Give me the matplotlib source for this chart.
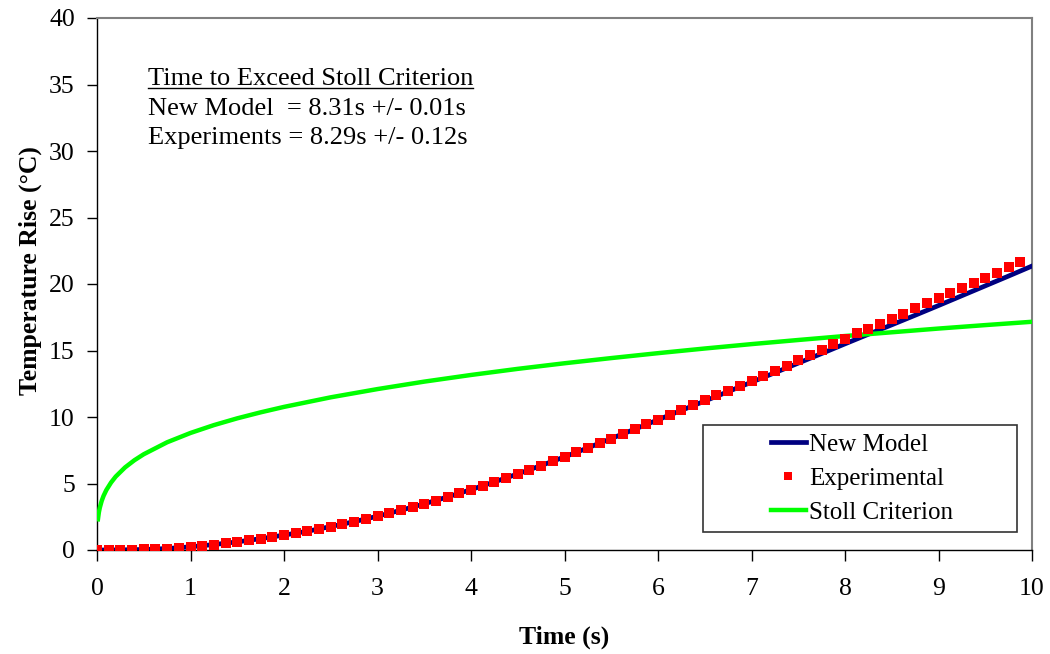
import matplotlib
matplotlib.use("Agg")
import matplotlib.pyplot as plt
from matplotlib.lines import Line2D
from matplotlib.patches import Rectangle

# ---- data -------------------------------------------------------------
time_model = [0.00, 0.25, 0.50, 0.75, 1.00, 1.25, 1.50, 1.75, 2.00, 2.25,
              2.50, 2.75, 3.00, 3.25, 3.50, 3.75, 4.00, 4.25, 4.50, 4.75,
              5.00, 5.25, 5.50, 5.75, 6.00, 6.25, 6.50, 6.75, 7.00, 7.25,
              7.50, 7.75, 8.00, 8.25, 8.50, 8.75, 9.00, 9.25, 9.50, 9.75,
              10.00]
temp_model = [0.00, 0.01, 0.04, 0.11, 0.24, 0.41, 0.61, 0.85, 1.12, 1.41,
              1.76, 2.13, 2.54, 2.99, 3.47, 3.99, 4.54, 5.12, 5.72, 6.35,
              7.00, 7.68, 8.38, 9.08, 9.79, 10.50, 11.20, 11.91, 12.62, 13.33,
              14.05, 14.77, 15.50, 16.22, 16.93, 17.65, 18.38, 19.12, 19.86, 20.60,
              21.35]

time_exp = [0.000, 0.125, 0.250, 0.375, 0.500, 0.625, 0.750, 0.875,
            1.000, 1.125, 1.250, 1.375, 1.500, 1.625, 1.750, 1.875,
            2.000, 2.125, 2.250, 2.375, 2.500, 2.625, 2.750, 2.875,
            3.000, 3.125, 3.250, 3.375, 3.500, 3.625, 3.750, 3.875,
            4.000, 4.125, 4.250, 4.375, 4.500, 4.625, 4.750, 4.875,
            5.000, 5.125, 5.250, 5.375, 5.500, 5.625, 5.750, 5.875,
            6.000, 6.125, 6.250, 6.375, 6.500, 6.625, 6.750, 6.875,
            7.000, 7.125, 7.250, 7.375, 7.500, 7.625, 7.750, 7.875,
            8.000, 8.125, 8.250, 8.375, 8.500, 8.625, 8.750, 8.875,
            9.000, 9.125, 9.250, 9.375, 9.500, 9.625, 9.750, 9.875]
temp_exp = [0.00, 0.00, 0.01, 0.02, 0.04, 0.07, 0.11, 0.17,
            0.24, 0.32, 0.41, 0.50, 0.61, 0.72, 0.85, 0.98,
            1.12, 1.26, 1.41, 1.58, 1.76, 1.94, 2.13, 2.33,
            2.54, 2.76, 2.99, 3.22, 3.47, 3.72, 3.99, 4.26,
            4.54, 4.83, 5.12, 5.42, 5.72, 6.03, 6.35, 6.67,
            7.00, 7.34, 7.68, 8.03, 8.38, 8.73, 9.08, 9.44,
            9.80, 10.16, 10.52, 10.88, 11.25, 11.62, 11.99, 12.36,
            12.73, 13.10, 13.48, 13.87, 14.26, 14.66, 15.06, 15.46,
            15.88, 16.28, 16.65, 17.02, 17.40, 17.78, 18.16, 18.56,
            18.95, 19.34, 19.72, 20.10, 20.47, 20.86, 21.25, 21.65]

time_stoll = [0.01, 0.02, 0.03, 0.05, 0.07, 0.10, 0.15, 0.20, 0.30, 0.40,
              0.50, 0.75, 1.00, 1.25, 1.50, 1.75, 2.00, 2.50, 3.00, 3.50,
              4.00, 4.50, 5.00, 5.50, 6.00, 6.50, 7.00, 7.50, 8.00, 8.50,
              9.00, 9.50, 10.00]
temp_stoll = [2.31, 2.83, 3.18, 3.69, 4.07, 4.51, 5.07, 5.52, 6.21, 6.75,
              7.20, 8.10, 8.80, 9.39, 9.90, 10.35, 10.76, 11.48, 12.10, 12.66,
              13.16, 13.62, 14.04, 14.43, 14.80, 15.15, 15.48, 15.79, 16.09, 16.37,
              16.65, 16.91, 17.16]

x_ticks = [0, 1, 2, 3, 4, 5, 6, 7, 8, 9, 10]
y_ticks = [0, 5, 10, 15, 20, 25, 30, 35, 40]

series_labels = ["New Model", "Experimental", "Stoll Criterion"]
note_lines = ["Time to Exceed Stoll Criterion",
              "New Model  = 8.31s +/- 0.01s",
              "Experiments = 8.29s +/- 0.12s"]

# ---- figure -----------------------------------------------------------
plt.rcParams["font.family"] = ["Liberation Serif", "DejaVu Serif"]

fig = plt.figure(figsize=(10.5, 6.54), dpi=100)
ax = fig.add_axes([97 / 1050, 104 / 654, 935 / 1050, 532 / 654])

ax.plot(time_model, temp_model, color="#000080", lw=3.4,
        label=series_labels[0], zorder=3)
ax.plot(time_exp, temp_exp, linestyle="none", marker="s", markersize=6.8,
        color="#FF0000", markeredgewidth=0, label=series_labels[1], zorder=4)
ax.plot(time_stoll, temp_stoll, color="#00FF00", lw=3.2,
        label=series_labels[2], zorder=3.5)

ax.set_xlim(0, 10)
ax.set_ylim(0, 40)
ax.set_xticks(x_ticks)
ax.set_yticks(y_ticks)
ax.tick_params(axis="x", direction="out", length=8, width=1, pad=12,
               labelsize=18.5, color="black")
ax.tick_params(axis="y", direction="out", length=7, width=1, pad=9,
               labelsize=18.5, color="black")

for side in ("left", "bottom"):
    ax.spines[side].set_color("black")
    ax.spines[side].set_linewidth(1.0)
for side in ("top", "right"):
    ax.spines[side].set_color("#808080")
    ax.spines[side].set_linewidth(1.5)

ax.set_xlabel("Time (s)", fontsize=18.5, fontweight="bold")
ax.set_ylabel("Temperature Rise (°C)", fontsize=18.5, fontweight="bold")
ax.xaxis.set_label_coords(0.5, -0.143)
ax.yaxis.set_label_coords(-0.059, 0.525)

# legend with its own rectangular frame
frame = Rectangle((0.648, 0.034), 0.336, 0.201, transform=ax.transAxes,
                  facecolor="white", edgecolor="#333333", lw=1.2, zorder=5)
ax.add_patch(frame)
leg = ax.legend(loc="center", bbox_to_anchor=(0.818, 0.1335),
                frameon=False, fontsize=18, handlelength=1.4,
                handletextpad=0.12, labelspacing=0.46, numpoints=1,
                markerscale=0.9)
leg.set_zorder(6)

# annotation block
note_x = 0.0545
note_y = [0.874, 0.818, 0.763]
texts = []
for line, yy in zip(note_lines, note_y):
    t = ax.text(note_x, yy, line, transform=ax.transAxes, fontsize=19,
                ha="left", va="baseline")
    texts.append(t)

# underline the heading line
fig.canvas.draw()
bb = texts[0].get_window_extent()
base = ax.transAxes.transform((note_x, note_y[0]))[1]
inv = fig.transFigure.inverted()
(x0, y0) = inv.transform((bb.x0, base - 3))
(x1, _) = inv.transform((bb.x1, base - 3))
fig.add_artist(Line2D([x0, x1], [y0, y0], transform=fig.transFigure,
                      color="black", lw=1.0))

fig.savefig("out.png", dpi=100)
